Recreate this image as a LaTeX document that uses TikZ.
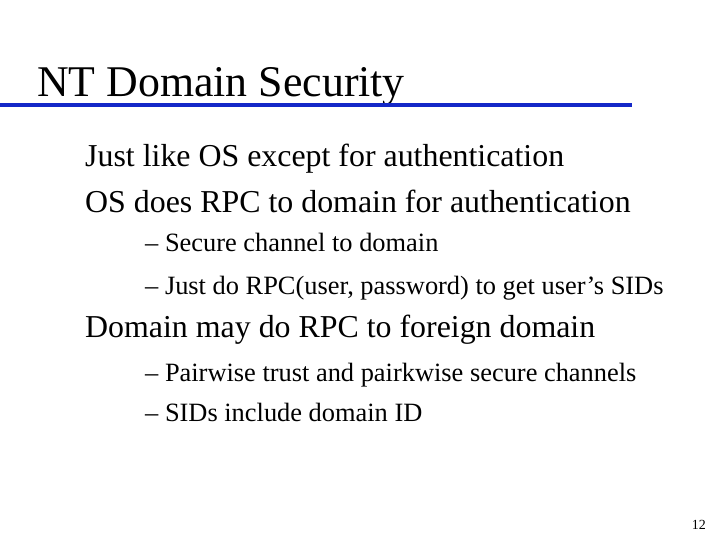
\documentclass[tikz,border=0pt]{standalone}
\usepackage{fontspec}
\setmainfont{Liberation Serif}
\usetikzlibrary{positioning}
\definecolor{rule}{RGB}{20,40,200}
\begin{document}
\begin{tikzpicture}[x=1bp,y=-1bp]
  \tikzstyle{main}=[anchor=base west, inner sep=0pt, font=\fontsize{32}{34}\selectfont]
  \tikzstyle{sub}=[anchor=base west, inner sep=0pt, font=\fontsize{26.5}{28}\selectfont]
  \useasboundingbox (0,0) rectangle (720,540);
  \node[anchor=base west, inner sep=0pt, font=\fontsize{44}{46}\selectfont] (title) at (37,97) {NT Domain Security};
  \draw[rule, line width=4bp] (0,105) -- (632,105);
  \node[main] (l1) at (85,167) {Just like OS except for authentication};
  \node[main] (l2) at (85,213) {OS does RPC to domain for authentication};
  \node[sub] (s1) at (145,252) {– Secure channel to domain};
  \node[sub] (s2) at (145,294) {– Just do RPC(user, password) to get user’s SIDs};
  \node[main] (l3) at (85,337) {Domain may do RPC to foreign domain};
  \node[sub] (s3) at (145,381) {– Pairwise trust and pairkwise secure channels};
  \node[sub] (s4) at (145,421) {– SIDs include domain ID};
  \node[anchor=base east, inner sep=0pt, font=\fontsize{14}{16}\selectfont] (page) at (706,529) {12};
\end{tikzpicture}
\end{document}
